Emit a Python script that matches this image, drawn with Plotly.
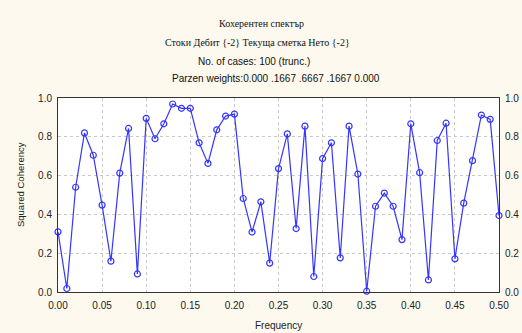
import plotly.graph_objects as go

# Frequencies 0.00 .. 0.50 and squared coherency estimates
frequency = [round(i * 0.01, 2) for i in range(51)]
coherency = [
    0.31, 0.018, 0.54, 0.82, 0.705, 0.448, 0.159, 0.613, 0.843, 0.093,
    0.895, 0.79, 0.867, 0.969, 0.947, 0.947, 0.769, 0.663, 0.836, 0.907,
    0.917, 0.482, 0.309, 0.465, 0.149, 0.636, 0.815, 0.327, 0.855, 0.08,
    0.688, 0.769, 0.176, 0.855, 0.608, 0.004, 0.442, 0.51, 0.442, 0.27,
    0.867, 0.615, 0.062, 0.781, 0.87, 0.171, 0.458, 0.677, 0.912, 0.89,
    0.394,
]
x_ticks = [0.0, 0.05, 0.10, 0.15, 0.20, 0.25, 0.30, 0.35, 0.40, 0.45, 0.50]
y_ticks = [0.0, 0.2, 0.4, 0.6, 0.8, 1.0]

title_lines = [
    "Кохерентен спектър",
    "Стоки Дебит {-2} Текуща сметка Нето {-2}",
    "No. of cases: 100 (trunc.)",
    "Parzen weights:0.000 .1667 .6667 .1667 0.000",
]

BG = "#FDF9EE"
BLUE = "#3535FF"
SANS = "Liberation Sans, Arial, sans-serif"
SERIF = "Liberation Serif, DejaVu Serif, serif"

fig = go.Figure()
fig.add_trace(go.Scatter(
    x=frequency, y=coherency, mode="lines+markers",
    line=dict(color=BLUE, width=1.2),
    marker=dict(symbol="circle-open", size=6, color=BLUE, line=dict(width=1.2)),
    showlegend=False, cliponaxis=False,
))
# invisible trace to carry the right-hand axis labels
fig.add_trace(go.Scatter(x=[0], y=[0], yaxis="y2", mode="markers",
                         marker=dict(opacity=0), showlegend=False, hoverinfo="skip"))

W, H = 522, 333
L, R, T, B = 58, 22.5, 98, 41
pw = W - L - R

grid = dict(showgrid=True, gridcolor="#C8C8C8", griddash="dot", gridwidth=1)
fig.update_layout(
    width=W, height=H,
    margin=dict(l=L, r=R, t=T, b=B, autoexpand=False),
    paper_bgcolor=BG, plot_bgcolor="white",
    font=dict(family=SANS, size=10, color="#222222"),
    xaxis=dict(range=[0, 0.5], tickvals=x_ticks, tickformat=".2f",
               showline=True, mirror=True, linecolor="#333333", linewidth=1,
               ticks="", zeroline=False, ticklabelstandoff=4, automargin=False, **grid),
    yaxis=dict(range=[0, 1], tickvals=y_ticks, tickformat=".1f",
               showline=True, mirror=True, linecolor="#333333", linewidth=1,
               ticks="", zeroline=False, ticklabelstandoff=3, automargin=False, **grid),
    yaxis2=dict(range=[0, 1], tickvals=y_ticks, tickformat=".1f", overlaying="y",
                side="right", showgrid=False, zeroline=False, ticks="",
                ticklabelstandoff=5, automargin=False),
)

# stacked title lines
title_y = [23, 43, 61, 79]
title_cx = [262, 258, 254, 276]
for i, (txt, py, cx) in enumerate(zip(title_lines, title_y, title_cx)):
    fig.add_annotation(
        text=txt, xref="paper", yref="paper",
        x=(cx - L) / pw, y=(H - B - py) / (H - T - B),
        showarrow=False, xanchor="center", yanchor="middle",
        font=dict(family=SERIF if i < 2 else SANS, size=10, color="#111111"),
    )

fig.add_annotation(text="Frequency", xref="paper", yref="paper",
                   x=(279 - L) / pw, y=(H - B - 325) / (H - T - B),
                   showarrow=False, xanchor="center", yanchor="middle",
                   font=dict(size=10, color="#222222"))
fig.add_annotation(text="Squared Coherency", xref="paper", yref="paper",
                   x=(20 - L) / pw, y=(H - B - 185) / (H - T - B),
                   textangle=-90, showarrow=False, xanchor="center", yanchor="middle",
                   font=dict(size=9.5, color="#222222"))

fig.write_html("out.html")
